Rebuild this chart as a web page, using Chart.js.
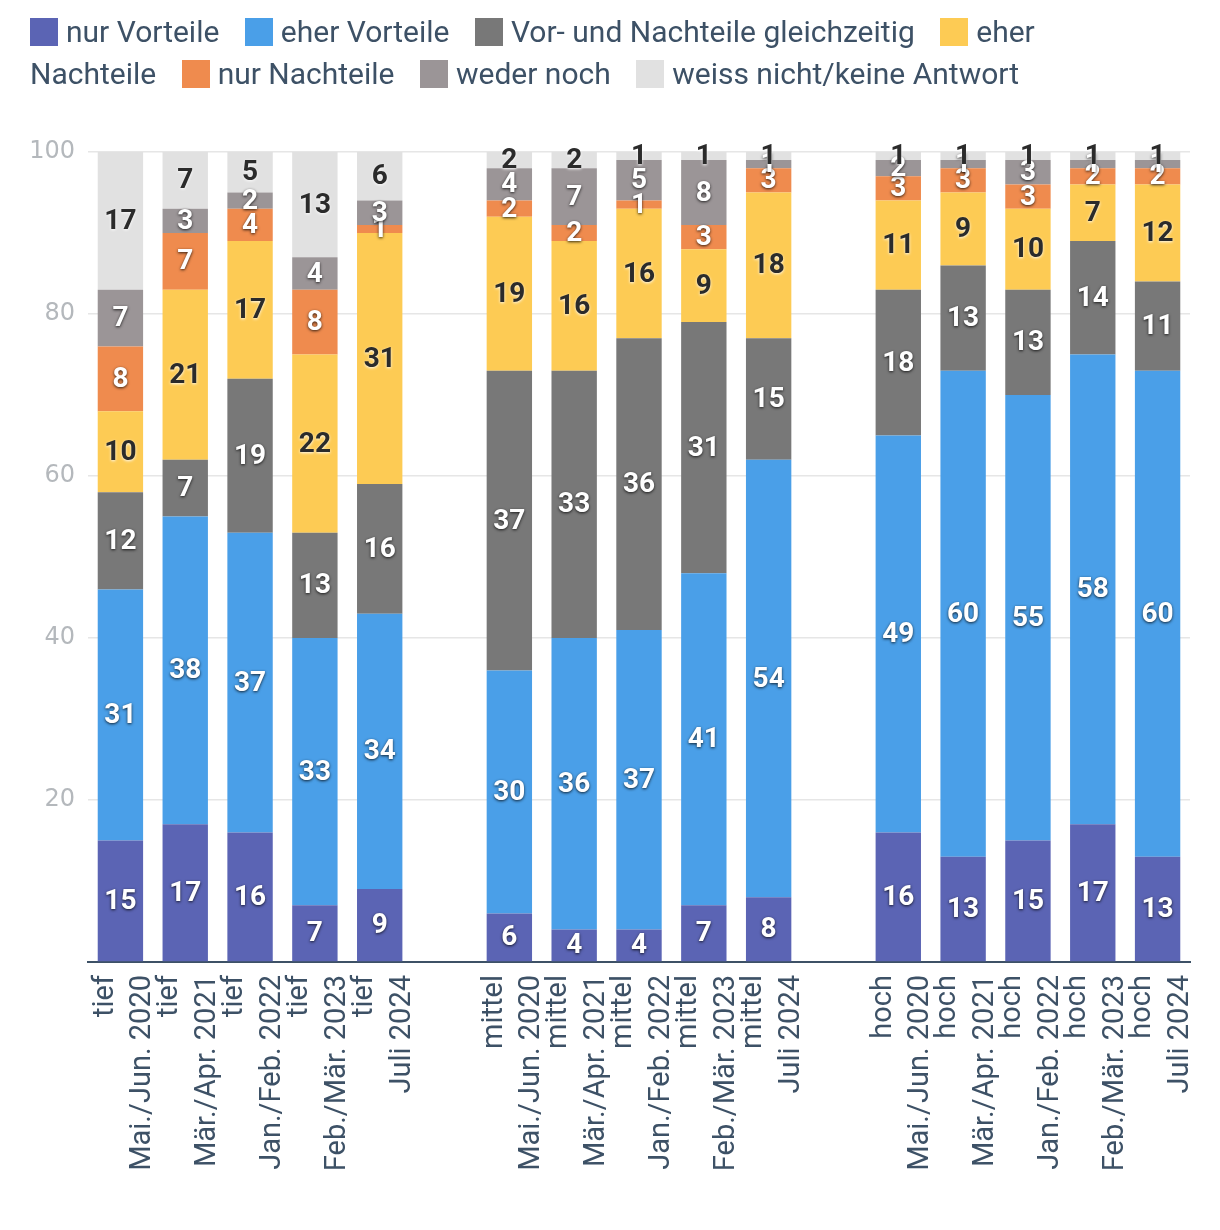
<!DOCTYPE html>
<html>
<head>
<meta charset="utf-8">
<script src="https://cdn.jsdelivr.net/npm/chart.js@4/dist/chart.umd.min.js"></script>
<style>
  body { margin: 0; background: #fff; }
  #wrap { position: relative; width: 1220px; height: 1230px; }
  #legend {
    position: absolute; left: 30px; top: 11px; width: 1130px;
    font-family: Roboto, sans-serif; font-size: 30px; line-height: 42px; color: #3d5166;
  }
  #legend .item { margin-right: 18px; }
  #legend .sw {
    display: inline-block; width: 28px; height: 28px; vertical-align: -4px; margin-right: 8px;
  }
</style>
</head>
<body>
<div id="wrap">
  <canvas id="myChart" width="1220" height="1230"></canvas>
  <div id="legend"></div>
</div>
<script>
'use strict';

// Categories
const waves = ['Mai./Jun. 2020', 'Mär./Apr. 2021', 'Jan./Feb. 2022', 'Feb./Mär. 2023', 'Juli 2024'];
const levels = ['tief', 'mittel', 'hoch'];

// Series values (tief x5, mittel x5, hoch x5)
const nurVorteile   = [15, 17, 16, 7, 9,   6, 4, 4, 7, 8,      16, 13, 15, 17, 13];
const eherVorteile  = [31, 38, 37, 33, 34, 30, 36, 37, 41, 54, 49, 60, 55, 58, 60];
const vorUndNach    = [12, 7, 19, 13, 16,  37, 33, 36, 31, 15, 18, 13, 13, 14, 11];
const eherNachteile = [10, 21, 17, 22, 31, 19, 16, 16, 9, 18,  11, 9, 10, 7, 12];
const nurNachteile  = [8, 7, 4, 8, 1,      2, 2, 1, 3, 3,      3, 3, 3, 2, 2];
const wederNoch     = [7, 3, 2, 4, 3,      4, 7, 5, 8, 1,      2, 1, 3, 1, 1];
const weissNicht    = [17, 7, 5, 13, 6,    2, 2, 1, 1, 1,      1, 1, 1, 1, 1];

const seriesNames = ['nur Vorteile', 'eher Vorteile', 'Vor- und Nachteile gleichzeitig',
  'eher Nachteile', 'nur Nachteile', 'weder noch', 'weiss nicht/keine Antwort'];
const seriesValues = [nurVorteile, eherVorteile, vorUndNach, eherNachteile, nurNachteile, wederNoch, weissNicht];
const seriesColors = ['#5b64b4', '#4a9fe8', '#787878', '#fdcb54', '#ef8b4e', '#9b9597', '#e1e1e1'];
const darkText = [false, false, false, true, false, false, true];

// Build labels with an empty slot between the groups
const labels = [];
levels.forEach(function (lvl, g) {
  waves.forEach(function (w) { labels.push([lvl, w]); });
  if (g < levels.length - 1) labels.push('');
});

function withGaps(values) {
  const out = [];
  for (let g = 0; g < levels.length; g++) {
    for (let i = 0; i < waves.length; i++) out.push(values[g * waves.length + i]);
    if (g < levels.length - 1) out.push(null);
  }
  return out;
}

const datasets = seriesNames.map(function (name, i) {
  return {
    label: name,
    data: withGaps(seriesValues[i]),
    backgroundColor: seriesColors[i],
    borderWidth: 0,
    barPercentage: 0.7,
    categoryPercentage: 1.0
  };
});

// HTML legend (wraps like the original)
const legendEl = document.getElementById('legend');
seriesNames.forEach(function (name, i) {
  const item = document.createElement('span');
  item.className = 'item';
  const sw = document.createElement('span');
  sw.className = 'sw';
  sw.style.background = seriesColors[i];
  item.appendChild(sw);
  item.appendChild(document.createTextNode(name));
  legendEl.appendChild(item);
  legendEl.appendChild(document.createTextNode(' '));
});

// Value labels in the middle of each segment
const barLabels = {
  id: 'barLabels',
  afterDatasetsDraw(chart) {
    const ctx = chart.ctx;
    ctx.save();
    ctx.font = 'bold 28px Roboto, sans-serif';
    ctx.textAlign = 'center';
    ctx.textBaseline = 'middle';
    chart.data.datasets.forEach(function (ds, di) {
      const meta = chart.getDatasetMeta(di);
      meta.data.forEach(function (bar, i) {
        const v = ds.data[i];
        if (v == null) return;
        const y = (bar.y + bar.base) / 2;
        const dark = darkText[di];
        ctx.shadowColor = dark ? 'rgba(255,255,255,0.95)' : 'rgba(0,0,0,0.8)';
        ctx.shadowBlur = 3;
        ctx.shadowOffsetX = 0;
        ctx.shadowOffsetY = 1;
        ctx.fillStyle = dark ? '#2b2b2b' : '#ffffff';
        ctx.fillText(String(v), bar.x, y + 1);
      });
    });
    ctx.restore();
  }
};

new Chart(document.getElementById('myChart'), {
  type: 'bar',
  data: { labels: labels, datasets: datasets },
  plugins: [barLabels],
  options: {
    responsive: false,
    animation: false,
    layout: { padding: { top: 152, right: 30, left: 0, bottom: 0 } },
    plugins: {
      legend: { display: false },
      tooltip: { enabled: false }
    },
    scales: {
      x: {
        stacked: true,
        grid: { display: false },
        border: { display: true, color: '#3d5166', width: 2 },
        ticks: {
          autoSkip: false,
          minRotation: 90,
          maxRotation: 90,
          padding: 5,
          labelOffset: -15,
          color: '#3d5166',
          font: { family: 'Roboto, sans-serif', size: 29, lineHeight: 1.3 }
        },
        afterFit: function (scale) {
          scale.height = 268;
          scale.paddingLeft = 0;
          scale.paddingRight = 0;
        }
      },
      y: {
        stacked: true,
        min: 0,
        max: 100,
        border: { display: false },
        grid: { color: '#e6e6e6', lineWidth: 1.5, drawTicks: false },
        ticks: {
          stepSize: 20,
          padding: 13,
          color: '#b4b8bc',
          font: { family: 'DejaVu Sans, sans-serif', size: 24 },
          callback: function (v) { return v === 0 ? '' : v; }
        },
        afterFit: function (scale) { scale.width = 88; }
      }
    }
  }
});
</script>
</body>
</html>
